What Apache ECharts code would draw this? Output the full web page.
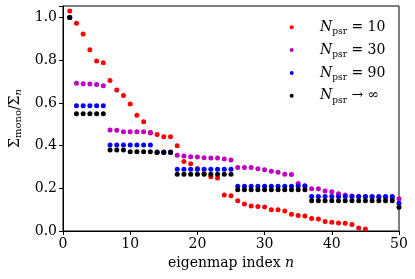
<!DOCTYPE html>
<html>
<head>
<meta charset="utf-8">
<script src="https://cdn.jsdelivr.net/npm/echarts@6/dist/echarts.min.js"></script>
<style>html,body{margin:0;padding:0;background:#fff}#c{width:415px;height:279px}</style>
</head>
<body>
<div id="c"></div>
<script>
// eigenmap index n
const idx = [1,2,3,4,5,6,7,8,9,10,11,12,13,14,15,16,17,18,19,20,21,22,23,24,25,26,27,28,29,30,31,32,33,34,35,36,37,38,39,40,41,42,43,44,45,46,47,48,49,50];
// N_psr = 10 (n = 1..45)
const red = [1.030,0.973,0.923,0.849,0.796,0.788,0.705,0.660,0.635,0.595,0.542,0.512,0.462,0.452,0.442,0.441,0.399,0.326,0.315,0.293,0.268,0.254,0.248,0.169,0.165,0.142,0.127,0.117,0.115,0.113,0.100,0.100,0.094,0.078,0.073,0.070,0.059,0.056,0.045,0.041,0.037,0.036,0.031,0.014,0.009];
// N_psr = 30
const magenta = [1.000,0.692,0.690,0.689,0.686,0.681,0.473,0.472,0.465,0.465,0.465,0.465,0.459,0.369,0.369,0.369,0.355,0.351,0.348,0.347,0.343,0.342,0.342,0.337,0.333,0.298,0.298,0.298,0.292,0.287,0.280,0.275,0.266,0.265,0.223,0.212,0.198,0.198,0.187,0.184,0.175,0.169,0.164,0.162,0.161,0.159,0.158,0.157,0.155,0.151];
// N_psr = 90
const blue = [1.000,0.587,0.587,0.587,0.587,0.587,0.403,0.403,0.403,0.403,0.403,0.403,0.403,0.370,0.370,0.370,0.289,0.289,0.289,0.289,0.289,0.289,0.289,0.289,0.289,0.210,0.210,0.210,0.210,0.210,0.210,0.210,0.210,0.210,0.211,0.211,0.162,0.162,0.162,0.162,0.162,0.162,0.162,0.162,0.162,0.162,0.162,0.162,0.162,0.130];
// N_psr -> infinity
const black = [1.000,0.549,0.549,0.549,0.549,0.549,0.379,0.379,0.379,0.371,0.371,0.371,0.371,0.368,0.368,0.368,0.266,0.266,0.266,0.266,0.266,0.266,0.266,0.266,0.266,0.193,0.193,0.193,0.193,0.193,0.193,0.193,0.193,0.193,0.193,0.193,0.142,0.142,0.142,0.142,0.142,0.142,0.142,0.142,0.142,0.142,0.142,0.142,0.142,0.111];
const seriesNames = ['N10','N30','N90','Ninf'];
const legendLabels = {N10:' = 10', N30:' = 30', N90:' = 90', Ninf:' \u2192 \u221E'};
const xTicks = [0,10,20,30,40,50];
const yTicks = [0.0,0.2,0.4,0.6,0.8,1.0];

const FONT = 'DejaVu Serif';
function pairs(vals){ return vals.map((v,i)=>[idx[i],v]); }
const colors = ['#ff0000','#bf00bf','#0000ff','#000000'];
const datas = [red, magenta, blue, black];

const chart = echarts.init(document.getElementById('c'), null, {renderer:'canvas'});
chart.setOption({
  animation:false,
  textStyle:{fontFamily:FONT},
  grid:{left:55, right:16, top:6, bottom:48, show:true, borderColor:'#000', borderWidth:1, backgroundColor:'transparent'},
  xAxis:{type:'value', min:0, max:50, interval:10,
    axisLine:{show:true, lineStyle:{color:'#000', width:1}},
    axisTick:{show:true, length:4, lineStyle:{color:'#000'}},
    splitLine:{show:false},
    axisLabel:{color:'#000', fontFamily:FONT, fontSize:14, margin:6, formatter:v=>{const t=xTicks.find(x=>x===v); return t===undefined?'':String(t);}},
    name:'{t|eigenmap index }{i|n}', nameLocation:'middle', nameGap:25,
    nameTextStyle:{color:'#000', fontFamily:FONT, fontSize:14, rich:{t:{fontFamily:FONT,fontSize:14,color:'#000'}, i:{fontFamily:FONT,fontSize:14,fontStyle:'italic',color:'#000'}}}
  },
  yAxis:{type:'value', min:0, max:1.054, interval:0.2,
    axisLine:{show:true, lineStyle:{color:'#000', width:1}},
    axisTick:{show:true, length:4, lineStyle:{color:'#000'}},
    splitLine:{show:false},
    axisLabel:{color:'#000', fontFamily:FONT, fontSize:14, margin:6, formatter:v=>{const t=yTicks.find(y=>Math.abs(y-v)<1e-6); return t===undefined?'':t.toFixed(1);}},
    name:'{S|\u03A3}{s|mono}{t|/}{S|\u03A3}{si|n}', nameLocation:'middle', nameGap:40, nameRotate:90,
    nameTextStyle:{color:'#000', fontFamily:FONT, fontSize:14, rich:{
      S:{fontFamily:FONT,fontSize:14,color:'#000'},
      t:{fontFamily:FONT,fontSize:14,color:'#000'},
      s:{fontFamily:FONT,fontSize:10,color:'#000',verticalAlign:'bottom',padding:[6,0,0,0]},
      si:{fontFamily:FONT,fontSize:10,fontStyle:'italic',color:'#000',verticalAlign:'bottom',padding:[6,0,0,0]}
    }}
  },
  legend:{orient:'vertical', left:289.7, top:18.3, itemWidth:4, itemHeight:4, icon:'circle', itemGap:4.8,
    padding:0, borderWidth:0,
    data:seriesNames.map(n=>({name:n, itemStyle:{opacity:1}})),
    formatter:n=>'{p|}{i|N}{s|psr}{t|'+legendLabels[n]+'}',
    textStyle:{fontFamily:FONT, fontSize:14, color:'#000', lineHeight:18, rich:{
      p:{width:21.3, lineHeight:18},
      i:{fontFamily:FONT,fontSize:14,fontStyle:'italic',color:'#000',lineHeight:18},
      s:{fontFamily:FONT,fontSize:9,color:'#000',verticalAlign:'bottom',lineHeight:18,padding:[7,0,0,0]},
      t:{fontFamily:FONT,fontSize:14,color:'#000',lineHeight:18}
    }}
  },
  series: seriesNames.map((nm,k)=>({
    name:nm, type:'scatter', data:pairs(datas[k]), symbol:'circle', symbolSize:5,
    itemStyle:{color:colors[k], opacity:1}, z:2+k
  }))
});
</script>
</body>
</html>
